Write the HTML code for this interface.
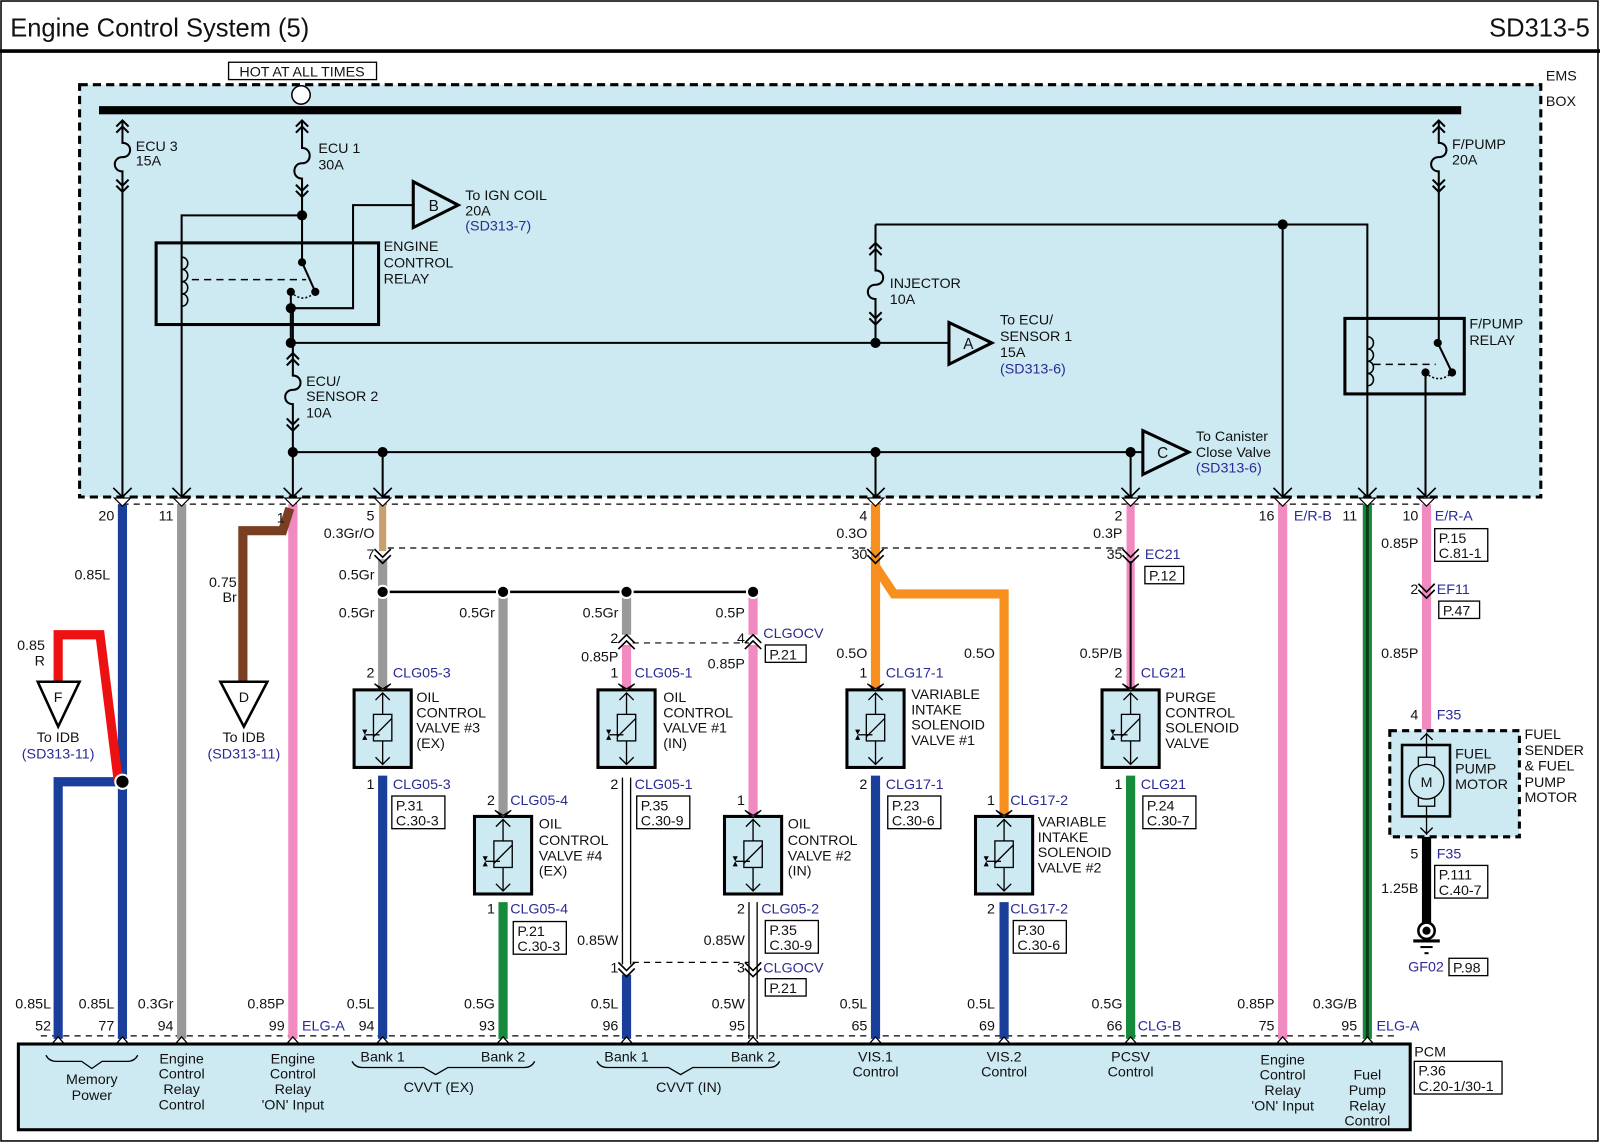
<!DOCTYPE html>
<html><head><meta charset="utf-8"><style>
html,body{margin:0;padding:0;background:#fff}
svg{display:block}
text{font-family:"Liberation Sans",Arial,sans-serif;font-size:14px;fill:#111}
.b{fill:#2a2a95}
.e{text-anchor:end}
.m{text-anchor:middle}
.ln{stroke:#000;stroke-width:2;fill:none}
.th{stroke:#000;stroke-width:1.3;fill:none}
.bx{fill:#fff;stroke:#000;stroke-width:1.3}
</style></head><body>
<svg width="1600" height="1143" viewBox="0 0 1568 1120" preserveAspectRatio="none" xmlns="http://www.w3.org/2000/svg">
<rect x="0" y="0" width="1568" height="1120" fill="#fff"/>
<rect x="1" y="1" width="1565" height="1117" fill="none" stroke="#000" stroke-width="1.5"/>
<text x="10" y="36" style="font-size:25px">Engine Control System (5)</text>
<text x="1558" y="36" class="e" style="font-size:25px">SD313-5</text>
<line x1="0" y1="50" x2="1568" y2="50" stroke="#000" stroke-width="3.5"/>

<!-- EMS box -->
<rect x="78" y="83" width="1432" height="404" fill="#cde9f1" stroke="#000" stroke-width="3" stroke-dasharray="8,5"/>
<text x="1515" y="79">EMS</text><text x="1515" y="104">BOX</text>
<rect x="224" y="61" width="145" height="17" class="bx"/>
<text x="296" y="75" class="m">HOT AT ALL TIMES</text>
<rect x="97" y="104" width="1335" height="8" fill="#000"/>
<circle cx="295" cy="93" r="9" fill="#fff" stroke="#000" stroke-width="1.5"/>

<!-- fuses -->
<g class="ln">
<polyline points="114,124 120,118 126,124"/><polyline points="114,130 120,124 126,130"/>
<path d="M120 118 V140 c10 0 10 14 0 14 c-10 0 -10 14 0 14 V487"/>
<polyline points="114,176 120,182 126,176"/><polyline points="114,182 120,188 126,182"/>
<polyline points="290,124 296,118 302,124"/><polyline points="290,130 296,124 302,130"/>
<path d="M296 118 V145 c10 0 10 15 0 15 c-10 0 -10 15 0 15 V257"/>
<polyline points="290,181 296,187 302,181"/><polyline points="290,187 296,193 302,187"/>
<polyline points="1404,124 1410,118 1416,124"/><polyline points="1404,130 1410,124 1416,130"/>
<path d="M1410 118 V140 c10 0 10 14 0 14 c-10 0 -10 14 0 14 V336"/>
<polyline points="1404,176 1410,182 1416,176"/><polyline points="1404,182 1410,188 1416,182"/>
<path d="M858 220 V265 c10 0 10 14 0 14 c-10 0 -10 14 0 14 V336"/>
<polyline points="852,244 858,238 864,244"/><polyline points="852,250 858,244 864,250"/>
<polyline points="852,306 858,312 864,306"/><polyline points="852,312 858,318 864,312"/>
<path d="M287 302 V368 c10 0 10 14 0 14 c-10 0 -10 14 0 14 V487"/>
<polyline points="281,352 287,346 293,352"/><polyline points="281,358 287,352 293,358"/>
<polyline points="281,410 287,416 293,410"/><polyline points="281,416 287,422 293,416"/>
</g>
<text x="133" y="148">ECU 3</text><text x="133" y="162">15A</text>
<text x="312" y="150">ECU 1</text><text x="312" y="166">30A</text>
<text x="1423" y="146">F/PUMP</text><text x="1423" y="161">20A</text>
<text x="872" y="282">INJECTOR</text><text x="872" y="298">10A</text>
<text x="300" y="378">ECU/</text><text x="300" y="393">SENSOR 2</text><text x="300" y="409">10A</text>

<!-- engine control relay -->
<g class="ln">
<polyline points="178,487 178,211 296,211"/>
<rect x="153" y="238" width="218" height="80" stroke-width="3"/>
<line x1="296" y1="257" x2="309" y2="286"/>
<polyline points="285,286 285,336 930,336"/>
<polyline points="285,302 346,302 346,201 405,201"/>
<line x1="188" y1="274" x2="300" y2="274" stroke-dasharray="7,5" stroke-width="1.5"/>
<path d="M178 252 c8 0 8 12 0 12 c8 0 8 12 0 12 c8 0 8 12 0 12 c8 0 8 12 0 12" stroke-width="1.5"/>
<path d="M285 286 q12 12 24 0" stroke-dasharray="2,2" stroke-width="1.5"/>
<polygon points="405,178 449,201 405,223" stroke-width="3" fill="#cde9f1"/>
<polygon points="930,316 972,336 930,357" stroke-width="3" fill="#cde9f1"/>
<polyline points="287,443 1120,443"/>
<polygon points="1120,422 1165,443 1120,465" stroke-width="3" fill="#cde9f1"/>
<line x1="375" y1="443" x2="375" y2="487"/>
<line x1="858" y1="443" x2="858" y2="487"/>
<line x1="1108" y1="443" x2="1108" y2="487"/>
<polyline points="858,220 1340,220 1340,487"/>
<line x1="1257" y1="220" x2="1257" y2="487"/>
<rect x="1318" y="312" width="117" height="74" stroke-width="3"/>
<path d="M1340 330 c8 0 8 12 0 12 c8 0 8 12 0 12 c8 0 8 12 0 12 c8 0 8 12 0 12" stroke-width="1.5"/>
<line x1="1346" y1="357" x2="1407" y2="357" stroke-dasharray="7,5" stroke-width="1.5"/>
<line x1="1409" y1="336" x2="1423" y2="365"/>
<path d="M1397 365 q13 12 26 0" stroke-dasharray="2,2" stroke-width="1.5"/>
<line x1="1397" y1="365" x2="1397" y2="487"/>
</g>
<g fill="#000">
<circle cx="296" cy="211" r="5"/><circle cx="296" cy="257" r="4"/><circle cx="309" cy="286" r="4"/><circle cx="285" cy="286" r="4"/><circle cx="285" cy="302" r="5"/>
<circle cx="285" cy="336" r="5"/><circle cx="858" cy="336" r="5"/><circle cx="1257" cy="220" r="5"/>
<circle cx="287" cy="443" r="5"/><circle cx="375" cy="443" r="5"/><circle cx="858" cy="443" r="5"/><circle cx="1108" cy="443" r="5"/>
<circle cx="1409" cy="336" r="4"/><circle cx="1423" cy="365" r="4"/><circle cx="1397" cy="365" r="4"/>
</g>
<text x="420" y="207" style="font-size:15px">B</text>
<text x="944" y="342" style="font-size:15px">A</text>
<text x="1134" y="449" style="font-size:15px">C</text>
<text x="456" y="196">To IGN COIL</text><text x="456" y="211">20A</text><text x="456" y="226" class="b">(SD313-7)</text>
<text x="376" y="246">ENGINE</text><text x="376" y="262">CONTROL</text><text x="376" y="278">RELAY</text>
<text x="980" y="318">To ECU/</text><text x="980" y="334">SENSOR 1</text><text x="980" y="350">15A</text><text x="980" y="366" class="b">(SD313-6)</text>
<text x="1172" y="432">To Canister</text><text x="1172" y="448">Close Valve</text><text x="1172" y="463" class="b">(SD313-6)</text>
<text x="1440" y="322">F/PUMP</text><text x="1440" y="338">RELAY</text>

<g stroke="#000" stroke-width="1.2" stroke-dasharray="6,5" fill="none">
<line x1="120" y1="494" x2="1398" y2="494"/>
<line x1="380" y1="537" x2="1104" y2="537"/>
<line x1="620" y1="630" x2="734" y2="630"/>
<line x1="620" y1="943" x2="734" y2="943"/>
<line x1="40" y1="1015" x2="1370" y2="1015"/>
</g>

<g fill="none" stroke-linejoin="miter">
<line x1="120" y1="494" x2="120" y2="1018" stroke="#1a3f9a" stroke-width="9"/>
<polyline points="57,1018 57,766 120,766" stroke="#1a3f9a" stroke-width="9"/>
<polyline points="116,766 98,622 57,622 57,668" stroke="#ee1111" stroke-width="9"/>
<line x1="178" y1="494" x2="178" y2="1018" stroke="#999" stroke-width="9"/>
<line x1="287" y1="494" x2="287" y2="1018" stroke="#f08ac0" stroke-width="9"/>
<polyline points="284,498 277,520 238,520 238,668" stroke="#7a3f22" stroke-width="9"/>
<line x1="375" y1="494" x2="375" y2="540" stroke="#c8a070" stroke-width="7"/>
<line x1="375" y1="548" x2="375" y2="676" stroke="#999" stroke-width="9"/>
<line x1="375" y1="760" x2="375" y2="1018" stroke="#1a3f9a" stroke-width="9"/>
<line x1="493" y1="580" x2="493" y2="800" stroke="#999" stroke-width="9"/>
<line x1="493" y1="884" x2="493" y2="1018" stroke="#168a3a" stroke-width="9"/>
<line x1="614" y1="580" x2="614" y2="622" stroke="#999" stroke-width="9"/>
<line x1="614" y1="632" x2="614" y2="676" stroke="#f08ac0" stroke-width="9"/>
<line x1="614" y1="955" x2="614" y2="1018" stroke="#1a3f9a" stroke-width="9"/>
<line x1="738" y1="580" x2="738" y2="622" stroke="#f08ac0" stroke-width="9"/>
<line x1="738" y1="632" x2="738" y2="800" stroke="#f08ac0" stroke-width="9"/>
<line x1="858" y1="494" x2="858" y2="676" stroke="#f7901e" stroke-width="9"/>
<polyline points="858,555 876,582 984,582 984,800" stroke="#f7901e" stroke-width="9"/>
<line x1="858" y1="760" x2="858" y2="1018" stroke="#1a3f9a" stroke-width="9"/>
<line x1="984" y1="884" x2="984" y2="1018" stroke="#1a3f9a" stroke-width="9"/>
<line x1="1108" y1="494" x2="1108" y2="676" stroke="#f08ac0" stroke-width="8"/>
<line x1="1108" y1="550" x2="1108" y2="676" stroke="#000" stroke-width="2"/>
<line x1="1108" y1="760" x2="1108" y2="1018" stroke="#168a3a" stroke-width="9"/>
<line x1="1257" y1="494" x2="1257" y2="1018" stroke="#f08ac0" stroke-width="9"/>
<line x1="1340" y1="494" x2="1340" y2="1018" stroke="#168a3a" stroke-width="9"/>
<line x1="1340" y1="494" x2="1340" y2="1018" stroke="#0c3a18" stroke-width="3"/>
<line x1="1398" y1="494" x2="1398" y2="715" stroke="#f08ac0" stroke-width="9"/>
<line x1="1398" y1="820" x2="1398" y2="905" stroke="#000" stroke-width="9"/>
</g>
<g stroke="#000" stroke-width="1.3">
<line x1="610" y1="762" x2="610" y2="945"/><line x1="618" y1="762" x2="618" y2="945"/>
<line x1="734" y1="884" x2="734" y2="1018"/><line x1="742" y1="884" x2="742" y2="1018"/>
</g>
<line x1="375" y1="580" x2="738" y2="580" stroke="#000" stroke-width="2.5"/>
<g fill="#000" stroke="#fff" stroke-width="2">
<circle cx="120" cy="766" r="7"/><circle cx="375" cy="580" r="6"/><circle cx="493" cy="580" r="6"/><circle cx="614" cy="580" r="6"/><circle cx="738" cy="580" r="6"/>
</g>

<polygon points="37,668 78,668 57,712" fill="#fff" stroke="#000" stroke-width="2.5"/>
<polygon points="216,668 262,668 239,712" fill="#fff" stroke="#000" stroke-width="2.5"/>
<text x="57" y="688" class="m">F</text><text x="57" y="727" class="m">To IDB</text><text x="57" y="743" class="m b">(SD313-11)</text>
<text x="239" y="688" class="m">D</text><text x="239" y="727" class="m">To IDB</text><text x="239" y="743" class="m b">(SD313-11)</text>

<g stroke="#000" stroke-width="1.6" fill="none">
<polyline points="111,478 120,487 129,478"/><polyline points="169,478 178,487 187,478"/><polyline points="278,478 287,487 296,478"/>
<polyline points="366,478 375,487 384,478"/><polyline points="849,478 858,487 867,478"/><polyline points="1099,478 1108,487 1117,478"/>
<polyline points="1248,478 1257,487 1266,478"/><polyline points="1331,478 1340,487 1349,478"/><polyline points="1389,478 1398,487 1407,478"/>
<polyline points="367,538 375,546 383,538"/><polyline points="367,544 375,552 383,544"/>
<polyline points="850,538 858,546 866,538"/><polyline points="850,544 858,552 866,544"/>
<polyline points="1100,538 1108,546 1116,538"/><polyline points="1100,544 1108,552 1116,544"/>
<polyline points="1390,572 1398,580 1406,572"/><polyline points="1390,578 1398,586 1406,578"/>
<polyline points="606,630 614,622 622,630"/><polyline points="606,636 614,628 622,636"/>
<polyline points="730,630 738,622 746,630"/><polyline points="730,636 738,628 746,636"/>
<polyline points="606,943 614,951 622,943"/><polyline points="606,949 614,957 622,949"/>
<polyline points="730,943 738,951 746,943"/><polyline points="730,949 738,957 746,949"/>
</g>
<g fill="#fff" stroke="#000" stroke-width="1.2">
<polygon points="112,488 128,488 120,496"/><polygon points="170,488 186,488 178,496"/><polygon points="279,488 295,488 287,496"/>
<polygon points="367,488 383,488 375,496"/><polygon points="850,488 866,488 858,496"/><polygon points="1100,488 1116,488 1108,496"/>
<polygon points="1249,488 1265,488 1257,496"/><polygon points="1332,488 1348,488 1340,496"/><polygon points="1390,488 1406,488 1398,496"/>
</g>
<g fill="#fff" stroke="#000" stroke-width="1.3">
<polygon points="49,1025 57,1016 65,1025"/><polygon points="112,1025 120,1016 128,1025"/><polygon points="170,1025 178,1016 186,1025"/>
<polygon points="279,1025 287,1016 295,1025"/><polygon points="367,1025 375,1016 383,1025"/><polygon points="485,1025 493,1016 501,1025"/>
<polygon points="606,1025 614,1016 622,1025"/><polygon points="730,1025 738,1016 746,1025"/><polygon points="850,1025 858,1016 866,1025"/>
<polygon points="976,1025 984,1016 992,1025"/><polygon points="1100,1025 1108,1016 1116,1025"/><polygon points="1249,1025 1257,1016 1265,1025"/>
<polygon points="1332,1025 1340,1016 1348,1025"/>
</g>

<defs>
<g id="v">
<rect x="-28" y="0" width="56" height="76" fill="#cde9f1" stroke="#000" stroke-width="3"/>
<line x1="0" y1="3" x2="0" y2="73" stroke="#000" stroke-width="1.3"/>
<polyline points="-7,10 0,3 7,10" fill="none" stroke="#000" stroke-width="1.3"/>
<polyline points="-7,66 0,73 7,66" fill="none" stroke="#000" stroke-width="1.3"/>
<rect x="-9" y="24" width="18" height="26" fill="#cde9f1" stroke="#000" stroke-width="1.3"/>
<line x1="-9" y1="46" x2="9" y2="28" stroke="#000" stroke-width="1.3"/>
<line x1="-17" y1="44" x2="-3" y2="44" stroke="#000" stroke-width="1.3"/>
<polygon points="-20,39 -15,39 -20,49 -15,49" fill="#000"/>
<polygon points="-8,-6 0,-1 8,-6 0,1" fill="#fff" stroke="#000" stroke-width="1.2"/>
</g>
</defs>
<use href="#v" x="375" y="676"/><use href="#v" x="493" y="800"/><use href="#v" x="614" y="676"/><use href="#v" x="738" y="800"/>
<use href="#v" x="858" y="676"/><use href="#v" x="984" y="800"/><use href="#v" x="1108" y="676"/>

<!-- fuel pump -->
<rect x="1362" y="716" width="127" height="104" fill="#cde9f1" stroke="#000" stroke-width="3" stroke-dasharray="7,5"/>
<rect x="1374" y="730" width="47" height="70" fill="none" stroke="#000" stroke-width="2.5"/>
<line x1="1398" y1="718" x2="1398" y2="818" stroke="#000" stroke-width="1.3"/>
<polyline points="1392,725 1398,719 1404,725" fill="none" stroke="#000" stroke-width="1.3"/>
<polyline points="1392,811 1398,817 1404,811" fill="none" stroke="#000" stroke-width="1.3"/>
<rect x="1390" y="742" width="16" height="48" fill="#cde9f1" stroke="#000" stroke-width="1.3"/>
<circle cx="1398" cy="766" r="17" fill="#cde9f1" stroke="#000" stroke-width="1.3"/>
<text x="1398" y="771" class="m">M</text>
<text x="1426" y="743">FUEL</text><text x="1426" y="758">PUMP</text><text x="1426" y="773">MOTOR</text>
<text x="1494" y="724">FUEL</text><text x="1494" y="740">SENDER</text><text x="1494" y="755">&amp; FUEL</text><text x="1494" y="771">PUMP</text><text x="1494" y="786">MOTOR</text>
<circle cx="1398" cy="912" r="8" fill="#fff" stroke="#000" stroke-width="2.5"/><circle cx="1398" cy="912" r="4" fill="#000"/>
<line x1="1385" y1="922" x2="1411" y2="922" stroke="#000" stroke-width="3"/>
<line x1="1392" y1="928" x2="1404" y2="928" stroke="#000" stroke-width="2"/>
<line x1="1396" y1="934" x2="1400" y2="934" stroke="#000" stroke-width="2"/>

<!-- PCM -->
<rect x="18" y="1023" width="1364" height="84" fill="#cde9f1" stroke="#000" stroke-width="3"/>
<text x="1386" y="1035">PCM</text>
<rect x="1386" y="1040" width="86" height="32" class="bx"/><text x="1390" y="1054">P.36</text><text x="1390" y="1069">C.20-1/30-1</text>
<g class="th">
<path d="M45 1034 q3 6 10 6 h25 l10 7 l10 -7 h25 q7 0 10 -6"/>
<path d="M345 1040 q3 6 10 6 h60 l12 7 l12 -7 h75 q7 0 10 -6"/>
<path d="M585 1040 q3 6 10 6 h60 l12 7 l12 -7 h75 q7 0 10 -6"/>
</g>
<g>
<text x="90" y="1062" class="m">Memory</text><text x="90" y="1078" class="m">Power</text>
<text x="178" y="1042" class="m">Engine</text><text x="178" y="1057" class="m">Control</text><text x="178" y="1072" class="m">Relay</text><text x="178" y="1087" class="m">Control</text>
<text x="287" y="1042" class="m">Engine</text><text x="287" y="1057" class="m">Control</text><text x="287" y="1072" class="m">Relay</text><text x="287" y="1087" class="m">'ON' Input</text>
<text x="375" y="1040" class="m">Bank 1</text><text x="493" y="1040" class="m">Bank 2</text><text x="430" y="1070" class="m">CVVT (EX)</text>
<text x="614" y="1040" class="m">Bank 1</text><text x="738" y="1040" class="m">Bank 2</text><text x="675" y="1070" class="m">CVVT (IN)</text>
<text x="858" y="1040" class="m">VIS.1</text><text x="858" y="1055" class="m">Control</text>
<text x="984" y="1040" class="m">VIS.2</text><text x="984" y="1055" class="m">Control</text>
<text x="1108" y="1040" class="m">PCSV</text><text x="1108" y="1055" class="m">Control</text>
<text x="1257" y="1043" class="m">Engine</text><text x="1257" y="1058" class="m">Control</text><text x="1257" y="1073" class="m">Relay</text><text x="1257" y="1088" class="m">'ON' Input</text>
<text x="1340" y="1058" class="m">Fuel</text><text x="1340" y="1073" class="m">Pump</text><text x="1340" y="1088" class="m">Relay</text><text x="1340" y="1103" class="m">Control</text>
</g>

<text x="112" y="510" class="e">20</text><text x="170" y="510" class="e">11</text><text x="279" y="512" class="e">1</text>
<text x="367" y="510" class="e">5</text><text x="367" y="527" class="e">0.3Gr/O</text><text x="367" y="548" class="e">7</text>
<text x="367" y="568" class="e">0.5Gr</text><text x="367" y="605" class="e">0.5Gr</text>
<text x="850" y="510" class="e">4</text><text x="850" y="527" class="e">0.3O</text><text x="850" y="548" class="e">30</text>
<text x="1100" y="510" class="e">2</text><text x="1100" y="527" class="e">0.3P</text><text x="1100" y="548" class="e">35</text>
<text x="1122" y="548" class="b">EC21</text><rect x="1122" y="555" width="38" height="17" class="bx"/><text x="1126" y="569">P.12</text>
<text x="1249" y="510" class="e">16</text><text x="1268" y="510" class="b">E/R-B</text><text x="1330" y="510" class="e">11</text>
<text x="1390" y="510" class="e">10</text><text x="1406" y="510" class="b">E/R-A</text>
<rect x="1406" y="518" width="52" height="32" class="bx"/><text x="1410" y="532">P.15</text><text x="1410" y="547">C.81-1</text>
<text x="1390" y="537" class="e">0.85P</text>
<text x="1390" y="582" class="e">2</text><text x="1408" y="582" class="b">EF11</text>
<rect x="1410" y="589" width="40" height="17" class="bx"/><text x="1414" y="603">P.47</text>
<text x="1390" y="645" class="e">0.85P</text>
<text x="1390" y="705" class="e">4</text><text x="1408" y="705" class="b">F35</text>
<text x="1390" y="841" class="e">5</text><text x="1408" y="841" class="b">F35</text>
<rect x="1406" y="848" width="52" height="32" class="bx"/><text x="1410" y="862">P.111</text><text x="1410" y="877">C.40-7</text>
<text x="1390" y="875" class="e">1.25B</text>
<text x="1380" y="952" class="b">GF02</text><rect x="1420" y="939" width="38" height="17" class="bx"/><text x="1424" y="953">P.98</text>

<text x="108" y="568" class="e">0.85L</text>
<text x="44" y="637" class="e">0.85</text><text x="44" y="652" class="e">R</text>
<text x="232" y="575" class="e">0.75</text><text x="232" y="590" class="e">Br</text>

<text x="367" y="664" class="e">2</text><text x="385" y="664" class="b">CLG05-3</text>
<text x="408" y="688">OIL</text><text x="408" y="703">CONTROL</text><text x="408" y="718">VALVE #3</text><text x="408" y="733">(EX)</text>
<text x="367" y="773" class="e">1</text><text x="385" y="773" class="b">CLG05-3</text>
<rect x="384" y="780" width="52" height="32" class="bx"/><text x="388" y="794">P.31</text><text x="388" y="809">C.30-3</text>

<text x="485" y="605" class="e">0.5Gr</text>
<text x="485" y="789" class="e">2</text><text x="500" y="789" class="b">CLG05-4</text>
<text x="528" y="812">OIL</text><text x="528" y="828">CONTROL</text><text x="528" y="843">VALVE #4</text><text x="528" y="858">(EX)</text>
<text x="485" y="895" class="e">1</text><text x="500" y="895" class="b">CLG05-4</text>
<rect x="503" y="903" width="52" height="32" class="bx"/><text x="507" y="917">P.21</text><text x="507" y="932">C.30-3</text>

<text x="606" y="605" class="e">0.5Gr</text><text x="606" y="630" class="e">2</text>
<text x="606" y="648" class="e">0.85P</text>
<text x="606" y="664" class="e">1</text><text x="622" y="664" class="b">CLG05-1</text>
<text x="650" y="688">OIL</text><text x="650" y="703">CONTROL</text><text x="650" y="718">VALVE #1</text><text x="650" y="733">(IN)</text>
<text x="606" y="773" class="e">2</text><text x="622" y="773" class="b">CLG05-1</text>
<rect x="624" y="780" width="52" height="32" class="bx"/><text x="628" y="794">P.35</text><text x="628" y="809">C.30-9</text>
<text x="606" y="926" class="e">0.85W</text><text x="606" y="953" class="e">1</text>

<text x="730" y="605" class="e">0.5P</text><text x="730" y="630" class="e">4</text>
<text x="748" y="625" class="b">CLGOCV</text><rect x="750" y="632" width="40" height="17" class="bx"/><text x="754" y="646">P.21</text>
<text x="730" y="655" class="e">0.85P</text>
<text x="730" y="789" class="e">1</text>
<text x="772" y="812">OIL</text><text x="772" y="828">CONTROL</text><text x="772" y="843">VALVE #2</text><text x="772" y="858">(IN)</text>
<text x="730" y="895" class="e">2</text><text x="746" y="895" class="b">CLG05-2</text>
<rect x="750" y="902" width="52" height="32" class="bx"/><text x="754" y="916">P.35</text><text x="754" y="931">C.30-9</text>
<text x="730" y="926" class="e">0.85W</text><text x="730" y="953" class="e">3</text>
<text x="748" y="953" class="b">CLGOCV</text><rect x="750" y="959" width="40" height="17" class="bx"/><text x="754" y="973">P.21</text>

<text x="850" y="645" class="e">0.5O</text><text x="975" y="645" class="e">0.5O</text>
<text x="850" y="664" class="e">1</text><text x="868" y="664" class="b">CLG17-1</text>
<text x="893" y="685">VARIABLE</text><text x="893" y="700">INTAKE</text><text x="893" y="715">SOLENOID</text><text x="893" y="730">VALVE #1</text>
<text x="850" y="773" class="e">2</text><text x="868" y="773" class="b">CLG17-1</text>
<rect x="870" y="780" width="52" height="32" class="bx"/><text x="874" y="794">P.23</text><text x="874" y="809">C.30-6</text>
<text x="975" y="789" class="e">1</text><text x="990" y="789" class="b">CLG17-2</text>
<text x="1017" y="810">VARIABLE</text><text x="1017" y="825">INTAKE</text><text x="1017" y="840">SOLENOID</text><text x="1017" y="855">VALVE #2</text>
<text x="975" y="895" class="e">2</text><text x="990" y="895" class="b">CLG17-2</text>
<rect x="993" y="902" width="52" height="32" class="bx"/><text x="997" y="916">P.30</text><text x="997" y="931">C.30-6</text>

<text x="1100" y="645" class="e">0.5P/B</text>
<text x="1100" y="664" class="e">2</text><text x="1118" y="664" class="b">CLG21</text>
<text x="1142" y="688">PURGE</text><text x="1142" y="703">CONTROL</text><text x="1142" y="718">SOLENOID</text><text x="1142" y="733">VALVE</text>
<text x="1100" y="773" class="e">1</text><text x="1118" y="773" class="b">CLG21</text>
<rect x="1120" y="780" width="52" height="32" class="bx"/><text x="1124" y="794">P.24</text><text x="1124" y="809">C.30-7</text>

<text x="50" y="988" class="e">0.85L</text><text x="112" y="988" class="e">0.85L</text><text x="170" y="988" class="e">0.3Gr</text>
<text x="279" y="988" class="e">0.85P</text><text x="367" y="988" class="e">0.5L</text><text x="485" y="988" class="e">0.5G</text>
<text x="606" y="988" class="e">0.5L</text><text x="730" y="988" class="e">0.5W</text><text x="850" y="988" class="e">0.5L</text>
<text x="975" y="988" class="e">0.5L</text><text x="1100" y="988" class="e">0.5G</text><text x="1249" y="988" class="e">0.85P</text><text x="1330" y="988" class="e">0.3G/B</text>
<text x="50" y="1010" class="e">52</text><text x="112" y="1010" class="e">77</text><text x="170" y="1010" class="e">94</text>
<text x="279" y="1010" class="e">99</text><text x="296" y="1010" class="b">ELG-A</text><text x="367" y="1010" class="e">94</text>
<text x="485" y="1010" class="e">93</text><text x="606" y="1010" class="e">96</text><text x="730" y="1010" class="e">95</text>
<text x="850" y="1010" class="e">65</text><text x="975" y="1010" class="e">69</text><text x="1100" y="1010" class="e">66</text>
<text x="1115" y="1010" class="b">CLG-B</text><text x="1249" y="1010" class="e">75</text><text x="1330" y="1010" class="e">95</text>
<text x="1349" y="1010" class="b">ELG-A</text>
</svg>
</body></html>
